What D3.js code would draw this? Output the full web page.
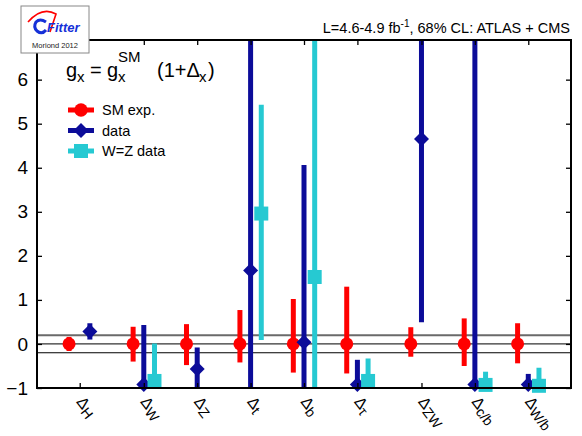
<!DOCTYPE html>
<html>
<head>
<meta charset="utf-8">
<script src="https://cdn.jsdelivr.net/npm/d3@7"></script>
<style>
  body { margin: 0; background: #fff; }
  text { font-family: "Liberation Sans", Arial, Helvetica, sans-serif; }
</style>
</head>
<body>
<svg id="canvas" width="582" height="436"></svg>
<script>
// categories and their x positions (axis units)
let categories = ['H', 'W', 'Z', 't', 'b', 'τ', 'ZW', 'c/b', 'W/b']
let catPos = [1, 2.2, 3.2, 4.2, 5.2, 6.2, 7.4, 8.4, 9.4]

// SM expectation (centred on 0)
let smVal = [0, 0, 0, 0, 0, 0, 0, 0, 0]
let smLo = [-0.16, -0.40, -0.48, -0.42, -0.65, -0.67, -0.29, -0.50, -0.44]
let smHi = [0.16, 0.39, 0.45, 0.77, 1.02, 1.30, 0.38, 0.58, 0.47]

// data
let dataVal = [0.28, -0.92, -0.57, 1.67, 0.04, -0.92, 4.65, -0.92, -0.92]
let dataLo = [0.10, -1.5, -1.5, -1.5, -1.5, -1.5, 0.49, -1.5, -1.5]
let dataHi = [0.47, 0.43, -0.08, 8, 4.06, -0.36, 8, 8, -0.68]

// W=Z data
let wzVal = [null, -0.84, null, 2.96, 1.52, -0.84, null, -0.93, -0.95]
let wzLo = [null, -1.5, null, 0.09, -1.5, -1.5, null, -1.5, -1.5]
let wzHi = [null, 0.01, null, 5.43, 8, -0.33, null, -0.63, -0.54]

let yTicks = [-1, 0, 1, 2, 3, 4, 5, 6]
let bandLines = [0.2, 0, -0.2]

const red = '#ff0000'
const blue = '#0c0c99'
const cyan = '#26c9d2'

let canvas = d3.select('#canvas')
let plotLeft = 37, plotRight = 571, plotTop = 40, plotBottom = 388

let x = d3.scaleLinear().domain([0.2, 10.2]).range([plotLeft, plotRight])
let y = d3.scaleLinear().domain([-1, 6.9]).range([plotBottom, plotTop])

canvas.append('clipPath').attr('id', 'plotclip')
    .append('rect')
    .attr('x', plotLeft).attr('y', plotTop)
    .attr('width', plotRight - plotLeft).attr('height', plotBottom - plotTop)

// horizontal reference lines
canvas.selectAll('line.band')
    .data(bandLines)
    .enter()
    .append('line')
    .attr('class', 'band')
    .attr('x1', plotLeft).attr('x2', plotRight)
    .attr('y1', d => y(d)).attr('y2', d => y(d))
    .attr('stroke', d => d > 0 ? '#6a6a6a' : (d === 0 ? '#333' : '#000'))
    .attr('stroke-width', d => d > 0 ? 2 : 1.2)

let makeSeries = (vals, los, his, offsetFn) => {
    return categories.map((c, i) => ({
        cat: c,
        x: catPos[i] + offsetFn(c),
        v: vals[i], lo: los[i], hi: his[i]
    })).filter(d => d.v !== null)
}

let smSeries = makeSeries(smVal, smLo, smHi, c => -0.2)
let dataSeries = makeSeries(dataVal, dataLo, dataHi, c => c === 'H' ? 0.19 : 0)
let wzSeries = makeSeries(wzVal, wzLo, wzHi, c => 0.2)

let bars = canvas.append('g').attr('clip-path', 'url(#plotclip)')

let drawBars = (series, color, cls) => {
    bars.selectAll('line.' + cls)
        .data(series)
        .enter()
        .append('line')
        .attr('class', cls)
        .attr('x1', d => x(d.x)).attr('x2', d => x(d.x))
        .attr('y1', d => y(d.lo)).attr('y2', d => y(d.hi))
        .attr('stroke', color)
        .attr('stroke-width', 5)
}

drawBars(smSeries, red, 'smbar')
drawBars(dataSeries, blue, 'databar')
drawBars(wzSeries, cyan, 'wzbar')

// markers
canvas.selectAll('circle.sm')
    .data(smSeries)
    .enter()
    .append('circle')
    .attr('class', 'sm')
    .attr('cx', d => x(d.x)).attr('cy', d => y(d.v))
    .attr('r', 6.5)
    .attr('fill', red)

canvas.selectAll('path.data')
    .data(dataSeries)
    .enter()
    .append('path')
    .attr('class', 'data')
    .attr('transform', d => `translate(${x(d.x)},${y(d.v)})`)
    .attr('d', 'M0,-7.5L7.5,0L0,7.5L-7.5,0Z')
    .attr('fill', blue)

canvas.selectAll('rect.wz')
    .data(wzSeries)
    .enter()
    .append('rect')
    .attr('class', 'wz')
    .attr('x', d => x(d.x) - 7).attr('y', d => y(d.v) - 7)
    .attr('width', 14).attr('height', 14)
    .attr('fill', cyan)

// frame
canvas.append('rect')
    .attr('x', plotLeft).attr('y', plotTop)
    .attr('width', plotRight - plotLeft).attr('height', plotBottom - plotTop)
    .attr('fill', 'none')
    .attr('stroke', '#000')
    .attr('stroke-width', 2)

// axes with inward ticks
let tickLen = 5
canvas.append('g').attr('transform', `translate(${plotLeft},0)`)
    .call(d3.axisLeft(y).tickValues(yTicks).tickSize(-tickLen).tickPadding(9).tickFormat(d3.format('d')))
    .call(g => g.select('.domain').remove())
    .call(g => g.selectAll('text').attr('font-size', 19).attr('fill', '#000')
        .attr('font-family', '"Liberation Sans", Arial, sans-serif'))
    .call(g => g.selectAll('line').attr('stroke-width', 1.3))

canvas.append('g').attr('transform', `translate(${plotRight},0)`)
    .call(d3.axisRight(y).tickValues(yTicks).tickSize(-tickLen).tickFormat(''))
    .call(g => g.select('.domain').remove())
    .call(g => g.selectAll('line').attr('stroke-width', 1.3))

canvas.append('g').attr('transform', `translate(0,${plotBottom})`)
    .call(d3.axisBottom(x).tickValues(catPos).tickSize(-tickLen).tickFormat(''))
    .call(g => g.select('.domain').remove())
    .call(g => g.selectAll('line').attr('stroke-width', 1.3))

canvas.append('g').attr('transform', `translate(0,${plotTop})`)
    .call(d3.axisTop(x).tickValues(catPos).tickSize(-tickLen).tickFormat(''))
    .call(g => g.select('.domain').remove())
    .call(g => g.selectAll('line').attr('stroke-width', 1.3))

// category labels, rotated
canvas.selectAll('text.cat')
    .data(categories)
    .enter()
    .append('text')
    .attr('class', 'cat')
    .attr('transform', (d, i) => `translate(${x(catPos[i]) - 4},402) rotate(52)`)
    .attr('font-size', 16)
    .html(d => `Δ<tspan font-size="14" dy="3">${d}</tspan>`)

// title
canvas.append('text')
    .attr('x', 570).attr('y', 33)
    .attr('text-anchor', 'end')
    .attr('font-size', 14.5)
    .html('L=4.6-4.9 fb<tspan font-size="10" dy="-6">-1</tspan><tspan dy="6">, 68% CL: ATLAS + CMS</tspan>')

// formula
let formula = canvas.append('g').attr('font-size', 20)
formula.append('text').attr('x', 66).attr('y', 77).text('g')
formula.append('text').attr('x', 77).attr('y', 82).attr('font-size', 15).text('x')
formula.append('text').attr('x', 90).attr('y', 77).text('=')
formula.append('text').attr('x', 107).attr('y', 77).text('g')
formula.append('text').attr('x', 118).attr('y', 82).attr('font-size', 15).text('x')
formula.append('text').attr('x', 118).attr('y', 62).attr('font-size', 15).text('SM')
formula.append('text').attr('x', 157).attr('y', 77).text('(1+Δ')
formula.append('text').attr('x', 199).attr('y', 82).attr('font-size', 15).text('x')
formula.append('text').attr('x', 208).attr('y', 77).text(')')

// legend
let legendItems = [
    { label: 'SM exp.', color: red, shape: 'circle' },
    { label: 'data', color: blue, shape: 'diamond' },
    { label: 'W=Z data', color: cyan, shape: 'square' }
]
let legend = canvas.selectAll('g.legend')
    .data(legendItems)
    .enter()
    .append('g')
    .attr('class', 'legend')
    .attr('transform', (d, i) => `translate(81,${110 + i * 20.5})`)

legend.append('line')
    .attr('x1', -13).attr('x2', 13)
    .attr('stroke', d => d.color)
    .attr('stroke-width', 5)
legend.append('path')
    .attr('d', d => d.shape === 'circle' ? d3.symbol(d3.symbolCircle, 140)()
        : d.shape === 'diamond' ? 'M0,-7.5L7.5,0L0,7.5L-7.5,0Z'
        : 'M-7,-7H7V7H-7Z')
    .attr('fill', d => d.color)
legend.append('text')
    .attr('x', 21).attr('y', 5)
    .attr('font-size', 14.5)
    .text(d => d.label)

// Gfitter logo box
let logo = canvas.append('g')
logo.append('rect')
    .attr('x', 21).attr('y', 6).attr('width', 68).attr('height', 47)
    .attr('fill', '#fff').attr('stroke', '#888').attr('stroke-width', 1)
logo.append('path')
    .attr('d', 'M28,22 Q42,6 56,14 L50,32')
    .attr('fill', 'none').attr('stroke', red).attr('stroke-width', 1.6)
logo.append('path')
    .attr('d', 'M46,22 Q40,18 36,22 Q33,27 37,31 Q42,35 46,30')
    .attr('fill', 'none').attr('stroke', '#1530d8').attr('stroke-width', 3)
logo.append('text')
    .attr('x', 47).attr('y', 32)
    .attr('font-size', 13).attr('font-weight', 'bold').attr('font-style', 'italic')
    .attr('fill', '#1530d8')
    .text('Fitter')
logo.append('text')
    .attr('x', 55).attr('y', 48)
    .attr('text-anchor', 'middle')
    .attr('font-size', 7.5)
    .attr('fill', '#222')
    .text('Moriond 2012')
</script>
</body>
</html>
